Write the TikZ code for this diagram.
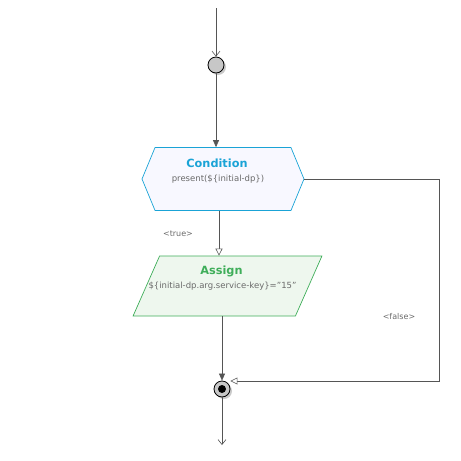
\documentclass[tikz,border=0pt]{standalone}
\usepackage{fontspec}
\setmainfont{DejaVu Sans}
\usetikzlibrary{arrows.meta, positioning, calc, shapes.geometric, shapes.symbols, shadows}
\definecolor{condblue}{HTML}{1AA3D6}
\definecolor{condfill}{HTML}{F8F8FF}
\definecolor{asgngreen}{HTML}{3FAE5A}
\definecolor{asgnfill}{HTML}{EEF7EE}
\definecolor{linegray}{HTML}{555555}
\definecolor{txtgray}{HTML}{6A6A6A}

\begin{document}
\begin{tikzpicture}[
    x=1pt, y=-1pt,
    flow/.style={draw=linegray, line width=0.6pt},
    vtip/.style={flow, -{Straight Barb[length=5pt,width=8pt]}},
    filltip/.style={flow, -{Triangle[length=7pt,width=6pt,fill=linegray]}},
    opentip/.style={flow, -{Triangle[open,length=7pt,width=7pt,fill=white]}},
    state/.style={circle, draw=black, line width=0.8pt, fill=black!22,
                  minimum size=16pt, inner sep=0pt,
                  drop shadow={shadow xshift=2pt, shadow yshift=-2pt, fill=black!35, opacity=0.6}},
    cond/.style={signal, signal to=east and west, signal pointer angle=135,
                 draw=condblue, fill=condfill, line width=0.7pt,
                 minimum width=162pt, minimum height=63pt, inner sep=0pt},
    assign/.style={trapezium, trapezium left angle=77, trapezium right angle=103,
                   trapezium stretches=true,
                   draw=asgngreen, fill=asgnfill, line width=0.7pt,
                   minimum width=189pt, minimum height=60pt, inner sep=0pt},
    title/.style={font=\fontsize{11.3}{13}\selectfont\bfseries},
    sub/.style={font=\fontsize{8.5}{10}\selectfont, text=txtgray},
    lbl/.style={font=\fontsize{8}{9}\selectfont, text=txtgray}
]
\useasboundingbox (0,0) rectangle (461,461);

% --- Nodes ---
\coordinate (top) at (216,8);
\node[state] (start) at (216,65) {};
\node[cond] (check) at (223,179) {\phantom{M}};
\node[title, text=condblue] (checktitle) at ([xshift=-6pt,yshift=16pt]check.center) {Condition};
\node[sub] (checksub) at ([xshift=-5pt]check.center) {present(\$\{initial-dp\})};
\node[assign] (set) at (227.5,286) {\phantom{M}};
\node[title, text=asgngreen] (settitle) at ([xshift=-6pt,yshift=15pt]set.center) {Assign};
\node[sub] (setsub) at ([xshift=-5pt]set.center) {\$\{initial-dp.arg.service-key\}="15"};
\node[state] (stop) at (222,389) {};
\fill (stop) circle (4pt);
\coordinate (bottom) at (222,445);
\coordinate (fcorner) at (439,179);

% --- Labels ---
\node[lbl] (truelbl) at (178,234) {<true>};
\node[lbl] (falselbl) at (399,317) {<false>};

% --- Flows ---
\draw[vtip] (top) -- (start);
\draw[filltip] (start) -- (start |- check.north);
\draw[opentip] ([xshift=-4pt]check.south) -- ([xshift=-4pt]check.south |- set.north);
\draw[filltip] (stop |- set.south) -- (stop.north);
\draw[opentip] (check.east) -- (fcorner) |- ([yshift=8pt]stop.east);
\draw[vtip] (stop) -- (bottom);

\end{tikzpicture}
\end{document}
